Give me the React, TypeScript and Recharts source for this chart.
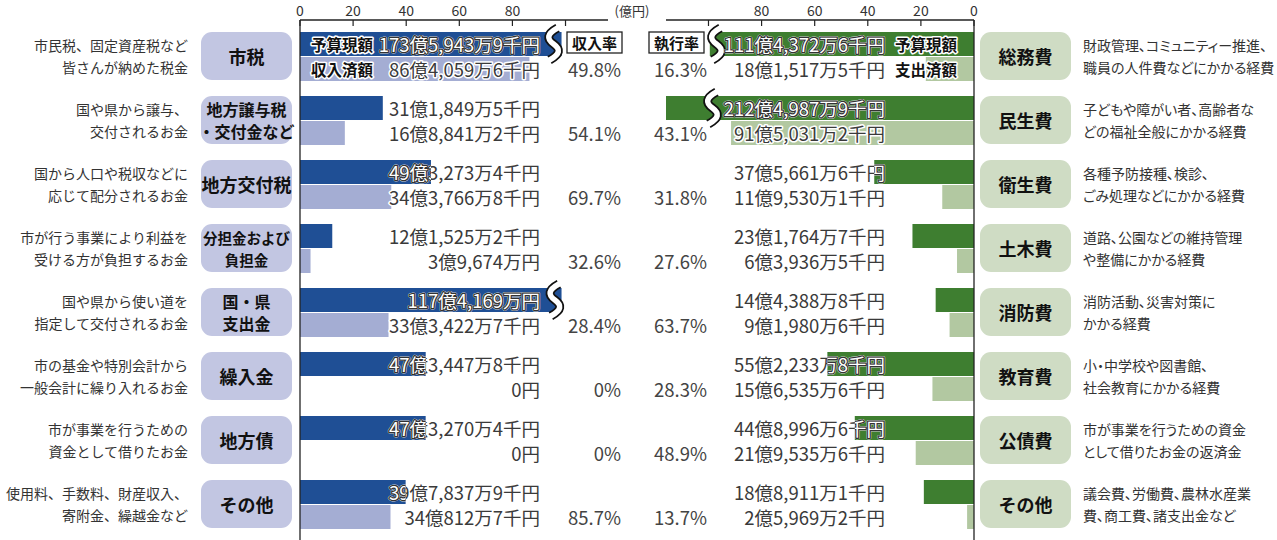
import { BarChart, Bar, XAxis, YAxis, LabelList } from "recharts"

const FONT = "'Noto Sans CJK JP', 'Noto Sans', sans-serif"

// 歳入 (単位: 千円)
const revenueNames = ["市税", "地方譲与税\n・交付金など", "地方交付税", "分担金および\n負担金", "国・県\n支出金", "繰入金", "地方債", "その他"]
const revenueNotes = [
  ["市民税、固定資産税など", "皆さんが納めた税金"],
  ["国や県から譲与、", "交付されるお金"],
  ["国から人口や税収などに", "応じて配分されるお金"],
  ["市が行う事業により利益を", "受ける方が負担するお金"],
  ["国や県から使い道を", "指定して交付されるお金"],
  ["市の基金や特別会計から", "一般会計に繰り入れるお金"],
  ["市が事業を行うための", "資金として借りたお金"],
  ["使用料、手数料、財産収入、", "寄附金、繰越金など"],
]
const revenueBudget = [17359439, 3118495, 4932734, 1215252, 11741690, 4734478, 4732704, 3978379]
const revenueReceived = [8640596, 1688412, 3437668, 396740, 3334227, 0, 0, 3408127]
const revenueRate = [49.8, 54.1, 69.7, 32.6, 28.4, 0, 0, 85.7]

// 歳出 (単位: 千円)
const expenseNames = ["総務費", "民生費", "衛生費", "土木費", "消防費", "教育費", "公債費", "その他"]
const expenseNotes = [
  ["財政管理、コミュニティー推進、", "職員の人件費などにかかる経費"],
  ["子どもや障がい者、高齢者な", "どの福祉全般にかかる経費"],
  ["各種予防接種、検診、", "ごみ処理などにかかる経費"],
  ["道路、公園などの維持管理", "や整備にかかる経費"],
  ["消防活動、災害対策に", "かかる経費"],
  ["小・中学校や図書館、", "社会教育にかかる経費"],
  ["市が事業を行うための資金", "として借りたお金の返済金"],
  ["議会費、労働費、農林水産業", "費、商工費、諸支出金など"],
]
const expenseBudget = [11143726, 21249879, 3756616, 2317647, 1443888, 5522338, 4489966, 1889111]
const expenseSpent = [1815175, 9150312, 1195301, 639365, 919806, 1565356, 2195356, 259692]
const expenseRate = [16.3, 43.1, 31.8, 27.6, 63.7, 28.3, 48.9, 13.7]

const axisTicks = [0, 20, 40, 60, 80, 100]
const axisMax = 116

// 途中を省略して描く棒 (億円)
const revenueBreaks = [{ row: 0, cap: 98.5, wave: 95.5 }, { row: 4, cap: 98.5, wave: 96 }]
const expenseBreaks = [{ row: 0, cap: 99.5, wave: 97 }, { row: 1, cap: 116, wave: 98.5 }]

const C = {
  blue: "#1f4f95",
  blueLight: "#a4add3",
  bluePill: "#c2c6e2",
  green: "#3e7e30",
  greenLight: "#b2c8a1",
  greenPill: "#cfdcc4",
  text: "#3a3a3a",
  axis: "#222",
}

function yen(v: number) {
  if (v === 0) return "0円"
  const oku = Math.floor(v / 100000)
  const man = Math.floor((v % 100000) / 10)
  const sen = v % 10
  let s = ""
  if (oku) s += oku + "億"
  if (man) s += man.toLocaleString("en-US") + "万"
  if (sen) s += sen + "千"
  return s + "円"
}

function buildRows(names: string[], budget: number[], actual: number[], rate: number[], breaks: any[], tags: string[]) {
  return names.map((name, i) => {
    const br = breaks.find((b) => b.row === i)
    const b = budget[i] / 100000
    return {
      name,
      budget: br ? Math.min(b, br.cap) : b,
      actual: actual[i] / 100000,
      budgetText: yen(budget[i]),
      actualText: yen(actual[i]),
      rateText: rate[i] + "%",
      wave: br ? br.wave : null,
      tagTop: i === 0 ? tags[0] : "",
      tagBottom: i === 0 ? tags[1] : "",
    }
  })
}

const revenueRows = buildRows(revenueNames, revenueBudget, revenueReceived, revenueRate, revenueBreaks, ["予算現額", "収入済額"])
const expenseRows = buildRows(expenseNames, expenseBudget, expenseSpent, expenseRate, expenseBreaks, ["予算現額", "支出済額"])

function BudgetShape(props: any) {
  const { x, y, width, height, fill, payload, side } = props
  const left = Math.min(x, x + width)
  const w = Math.abs(width)
  if (!w) return null
  let wave = null
  if (payload && payload.wave != null) {
    const ppu = w / payload.budget
    const wx = side === "left" ? left + payload.wave * ppu : left + w - payload.wave * ppu
    const t = y - 4
    const b = y + height + 4
    const m = (t + b) / 2
    const d = `M ${wx + 4} ${t} C ${wx - 7} ${t + 6}, ${wx - 7} ${m - 5}, ${wx} ${m} S ${wx + 7} ${b - 6}, ${wx - 4} ${b}`
    wave = (
      <g>
        <path d={d} fill="none" stroke="#111" strokeWidth={9} strokeLinecap="butt" />
        <path d={d} fill="none" stroke="#fff" strokeWidth={5.5} strokeLinecap="square" />
      </g>
    )
  }
  return (
    <g>
      <rect x={left} y={y} width={w} height={height} fill={fill} />
      {wave}
    </g>
  )
}

function PlainShape(props: any) {
  const { x, y, width, height, fill } = props
  const w = Math.abs(width)
  if (!w) return null
  return <rect x={Math.min(x, x + width)} y={y} width={w} height={height} fill={fill} />
}

function valueLabel(anchorX: number, anchor: "start" | "end", overDark: boolean, key: string) {
  return (props: any) => {
    const vb = props.viewBox ?? props
    const { value } = props
    if (value === "" || value == null) return null
    const left = Math.min(vb.x, vb.x + vb.width)
    const w = Math.abs(vb.width)
    const cy = vb.y + vb.height / 2
    const id = `clip-${key}-${Math.round(vb.y)}`
    const common: any = {
      x: anchorX,
      y: cy,
      textAnchor: anchor,
      dominantBaseline: "central",
      fontSize: 18.5,
      fontFamily: FONT,
      strokeLinejoin: "round",
      paintOrder: "stroke",
    }
    return (
      <g>
        <text {...common} fill={C.text} stroke="#fff" strokeWidth={3}>{value}</text>
        {overDark && w > 0 && (
          <>
            <clipPath id={id}>
              <rect x={left} y={vb.y} width={w} height={vb.height} />
            </clipPath>
            <text {...common} fill="#fff" stroke="#333" strokeWidth={2.5} clipPath={`url(#${id})`}>{value}</text>
          </>
        )}
      </g>
    )
  }
}

function tagLabel(anchorX: number) {
  return (props: any) => {
    const vb = props.viewBox ?? props
    if (!props.value) return null
    return (
      <text x={anchorX} y={vb.y + vb.height / 2} dominantBaseline="central" fontSize={15.5} fontWeight={700}
        fontFamily={FONT} fill="#111" stroke="#fff" strokeWidth={3} strokeLinejoin="round" paintOrder="stroke">
        {props.value}
      </text>
    )
  }
}

function rateLabel(anchorX: number) {
  return (props: any) => {
    const vb = props.viewBox ?? props
    return (
      <text x={anchorX} y={vb.y + vb.height / 2} textAnchor="end" dominantBaseline="central" fontSize={18.5}
        fontFamily={FONT} fill="#444">
        {props.value}
      </text>
    )
  }
}

function AxisTick(props: any) {
  const { x, payload } = props
  return (
    <g>
      <line x1={x} x2={x} y1={20} y2={26} stroke={C.axis} strokeWidth={1.2} />
      {payload.value !== 100 && (
        <text x={x} y={10} textAnchor="middle" dominantBaseline="central" fontSize={14} fontFamily={FONT} fill="#333">
          {payload.value}
        </text>
      )}
    </g>
  )
}

function CategoryTick(props: any) {
  const { y, payload, names, notes, pillX, noteX, noteAnchor, pillFill, narrow } = props
  const i = names.indexOf(payload.value)
  if (i < 0) return null
  const lines = names[i].split("\n")
  const pillW = 91
  const cx = pillX + pillW / 2
  const size = lines.length === 1 ? 18 : lines[0].length >= 6 ? 14.5 : 16
  return (
    <g>
      {notes[i].map((t: string, k: number) => (
        <text key={k} x={noteX} y={y - 11 + k * 22} textAnchor={noteAnchor} dominantBaseline="central"
          fontSize={14} fontFamily={FONT} fill="#333" style={narrow ? { fontFeatureSettings: "'palt'" } : undefined}>{t}</text>
      ))}
      <rect x={pillX} y={y - 24} width={pillW} height={48} rx={11} fill={pillFill} />
      {lines.map((t: string, k: number) => (
        <text key={k} x={cx} y={lines.length === 1 ? y : y - 11 + k * 22} textAnchor="middle" dominantBaseline="central"
          fontSize={size} fontWeight={700} fontFamily={FONT} fill="#111">{t}</text>
      ))}
    </g>
  )
}

export default function App() {
  const axisLine = { stroke: C.axis, strokeWidth: 1.3 }
  return (
    <div style={{ position: "absolute", left: 0, top: 0, width: 1277, height: 540, background: "#fff", fontFamily: FONT, overflow: "hidden" }}>
      <div style={{ position: "absolute", left: 0, top: 0 }}>
        <BarChart width={640} height={540} data={revenueRows} layout="vertical"
          margin={{ top: 0, right: 32, bottom: 0, left: 0 }} barSize={24} barGap={1}>
          <XAxis type="number" orientation="top" domain={[0, axisMax]} ticks={axisTicks} height={20}
            tickLine={false} axisLine={axisLine} interval={0} tick={(p: any) => <AxisTick {...p} />} />
          <YAxis type="category" dataKey="name" width={300} tickLine={false} axisLine={axisLine} interval={0}
            padding={{ top: 4, bottom: 4 }}
            tick={(p: any) => (
              <CategoryTick {...p} names={revenueNames} notes={revenueNotes} pillX={201} noteX={188} noteAnchor="end" pillFill={C.bluePill} />
            )} />
          <Bar dataKey="budget" fill={C.blue} isAnimationActive={false} shape={(p: any) => <BudgetShape {...p} side="left" />}>
            <LabelList dataKey="budgetText" content={valueLabel(540, "end", true, "rb")} />
            <LabelList dataKey="tagTop" content={tagLabel(311)} />
          </Bar>
          <Bar dataKey="actual" fill={C.blueLight} isAnimationActive={false} shape={(p: any) => <PlainShape {...p} />}>
            <LabelList dataKey="actualText" content={valueLabel(540, "end", false, "ra")} />
            <LabelList dataKey="tagBottom" content={tagLabel(311)} />
            <LabelList dataKey="rateText" content={rateLabel(621)} />
          </Bar>
        </BarChart>
      </div>
      <div style={{ position: "absolute", left: 640, top: 0 }}>
        <BarChart width={637} height={540} data={expenseRows} layout="vertical"
          margin={{ top: 0, right: 0, bottom: 0, left: 26 }} barSize={24} barGap={1}>
          <XAxis type="number" orientation="top" reversed domain={[0, axisMax]} ticks={axisTicks} height={20}
            tickLine={false} axisLine={axisLine} interval={0} tick={(p: any) => <AxisTick {...p} />} />
          <YAxis type="category" dataKey="name" orientation="right" width={303} tickLine={false} axisLine={axisLine}
            interval={0} padding={{ top: 4, bottom: 4 }}
            tick={(p: any) => (
              <CategoryTick {...p} names={expenseNames} notes={expenseNotes} pillX={340} noteX={443} noteAnchor="start" pillFill={C.greenPill} narrow />
            )} />
          <Bar dataKey="budget" fill={C.green} isAnimationActive={false} shape={(p: any) => <BudgetShape {...p} side="right" />}>
            <LabelList dataKey="budgetText" content={valueLabel(245, "end", true, "eb")} />
            <LabelList dataKey="tagTop" content={tagLabel(255)} />
          </Bar>
          <Bar dataKey="actual" fill={C.greenLight} isAnimationActive={false} shape={(p: any) => <PlainShape {...p} />}>
            <LabelList dataKey="actualText" content={valueLabel(245, "end", false, "ea")} />
            <LabelList dataKey="tagBottom" content={tagLabel(255)} />
            <LabelList dataKey="rateText" content={rateLabel(67)} />
          </Bar>
        </BarChart>
      </div>
      <svg width={1277} height={540} style={{ position: "absolute", left: 0, top: 0, pointerEvents: "none" }}>
        <text x={632} y={10} textAnchor="middle" dominantBaseline="central" fontSize={13} fontFamily={FONT} fill="#333">(億円)</text>
        {[{ x: 567, t: "収入率" }, { x: 649, t: "執行率" }].map((h) => (
          <g key={h.t}>
            <rect x={h.x} y={32} width={55} height={21} fill="#fff" stroke="#222" strokeWidth={1.3} />
            <text x={h.x + 27.5} y={42.5} textAnchor="middle" dominantBaseline="central" fontSize={15} fontWeight={700}
              fontFamily={FONT} fill="#111">{h.t}</text>
          </g>
        ))}
      </svg>
    </div>
  )
}
